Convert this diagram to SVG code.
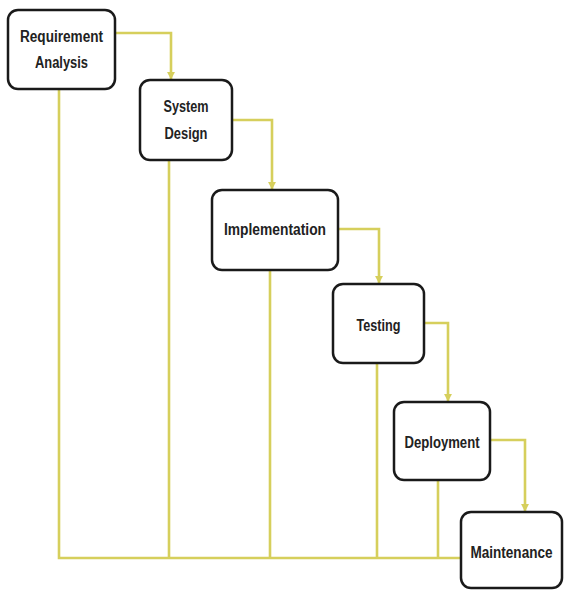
<svg xmlns="http://www.w3.org/2000/svg" width="568" height="591" viewBox="0 0 568 591">
<style>
.box{fill:#fff;stroke:#1a1a1a;stroke-width:2.5}
.lbl{font-family:"Liberation Sans",Arial,sans-serif;font-weight:bold;font-size:16px;fill:#222;text-anchor:middle}
.ln{fill:none;stroke:#d6cf5c;stroke-width:2.6;stroke-linejoin:miter}
</style>
<defs>
<marker id="ah" viewBox="0 0 10 10" refX="9" refY="5" markerWidth="3.2" markerHeight="3.2" orient="auto" markerUnits="strokeWidth">
<path d="M0,0 L10,5 L0,10 z" fill="#d6cf5c"/>
</marker>
</defs>
<rect width="568" height="591" fill="#fff"/>
<g id="connectors">
<path class="ln" d="M115,33 H171 V79" marker-end="url(#ah)"/>
<path class="ln" d="M232,120 H272 V189" marker-end="url(#ah)"/>
<path class="ln" d="M338,229 H379 V283" marker-end="url(#ah)"/>
<path class="ln" d="M424,323 H448 V401" marker-end="url(#ah)"/>
<path class="ln" d="M490,440 H525 V511" marker-end="url(#ah)"/>
<path class="ln" d="M59,89 V558 H461"/>
<path class="ln" d="M169,160 V558"/>
<path class="ln" d="M270,270 V558"/>
<path class="ln" d="M377,363 V558"/>
<path class="ln" d="M438,480 V558"/>
</g>
<g id="requirement-analysis">
<rect class="box" x="8" y="10" width="107" height="79" rx="10"/>
<text class="lbl" x="61.5" y="42" textLength="83" lengthAdjust="spacingAndGlyphs">Requirement</text>
<text class="lbl" x="61.5" y="68" textLength="53" lengthAdjust="spacingAndGlyphs">Analysis</text>
</g>
<g id="system-design">
<rect class="box" x="140" y="80" width="92" height="80" rx="10"/>
<text class="lbl" x="186" y="112" textLength="45" lengthAdjust="spacingAndGlyphs">System</text>
<text class="lbl" x="186" y="139" textLength="43" lengthAdjust="spacingAndGlyphs">Design</text>
</g>
<g id="implementation">
<rect class="box" x="212" y="190" width="126" height="80" rx="10"/>
<text class="lbl" x="275" y="235" textLength="102" lengthAdjust="spacingAndGlyphs">Implementation</text>
</g>
<g id="testing">
<rect class="box" x="333" y="284" width="91" height="79" rx="10"/>
<text class="lbl" x="378.5" y="331" textLength="44" lengthAdjust="spacingAndGlyphs">Testing</text>
</g>
<g id="deployment">
<rect class="box" x="394" y="402" width="96" height="78" rx="10"/>
<text class="lbl" x="442" y="448" textLength="75" lengthAdjust="spacingAndGlyphs">Deployment</text>
</g>
<g id="maintenance">
<rect class="box" x="461" y="512" width="101" height="76" rx="10"/>
<text class="lbl" x="511.5" y="558" textLength="82" lengthAdjust="spacingAndGlyphs">Maintenance</text>
</g>
</svg>
